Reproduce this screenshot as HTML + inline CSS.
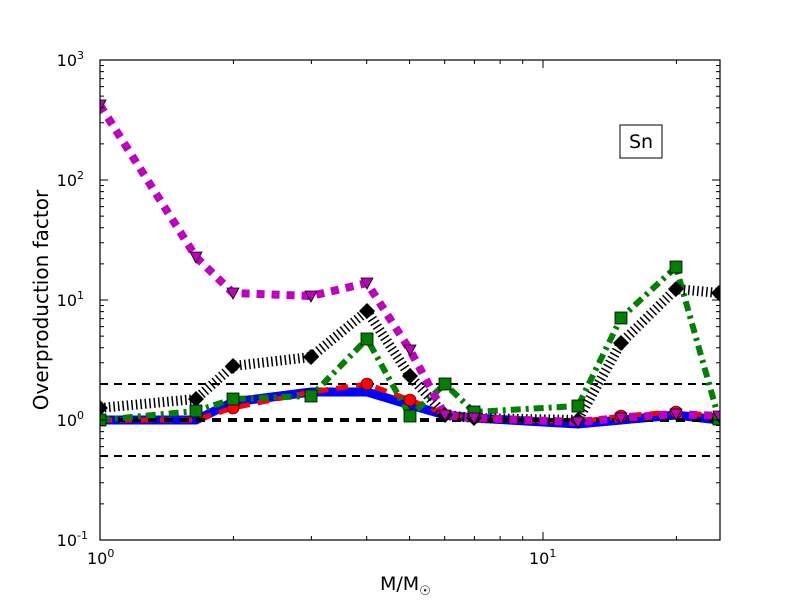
<!DOCTYPE html>
<html><head><meta charset="utf-8"><style>body{margin:0;background:#fff}svg{display:block}</style></head><body>
<svg width="800" height="600" xmlns="http://www.w3.org/2000/svg" font-family="DejaVu Sans, Liberation Sans, sans-serif">
<rect width="800" height="600" fill="#fff"/>
<defs><clipPath id="c"><rect x="100" y="60" width="620" height="480"/></clipPath></defs>
<g clip-path="url(#c)">
<line x1="100" y1="384" x2="720" y2="384" stroke="#000" stroke-width="2" stroke-dasharray="8,6"/>
<line x1="100" y1="456" x2="720" y2="456" stroke="#000" stroke-width="2" stroke-dasharray="8,6"/>
<polyline fill="none" stroke="#0000ff" stroke-width="9" points="100,420 196,420 233,402 311,392 367,392 410,405 445,415 474,418 578,424 621,420 676,415 719,420"/>
<polyline fill="none" stroke="#ff0000" stroke-width="5" stroke-dasharray="12,8" points="100,420 196,420 233,408 311,392 367,384 410,400 445,414 474,418 578,422 621,416 676,412 719,416"/>
<line x1="100" y1="420" x2="720" y2="420" stroke="#000" stroke-width="4" stroke-dasharray="9,7"/>
<polyline fill="none" stroke="#007f00" stroke-width="6" stroke-dasharray="10,5,3,5" points="100,420 196,411 233,399 311,396 367,339 410,416 445,384 474,412 578,406 621,318 676,267 719,419"/>
<polyline fill="none" stroke="#000" stroke-width="10" stroke-dasharray="1.5,3" points="100,408 196,399 233,366 311,357 367,311 410,376 445,415 474,418 578,420 621,343 676,289 719,293"/>
<polyline fill="none" stroke="#bf00bf" stroke-width="8" stroke-dasharray="8,7" points="100,105 196,257 233,293 311,296 367,283 410,350 445,415 474,418 578,422 621,418 676,414 719,416"/>
<g fill="#ff0000" stroke="#000" stroke-width="0.6">
<circle cx="233" cy="408" r="6"/><circle cx="367" cy="384" r="6"/><circle cx="410" cy="400" r="6"/><circle cx="621" cy="416" r="6"/><circle cx="676" cy="412" r="6"/></g>
<g fill="#000"><path d="M100,400l8,8-8,8-8-8z M196,391l8,8-8,8-8-8z M233,358l8,8-8,8-8-8z M311,349l8,8-8,8-8-8z M367,303l8,8-8,8-8-8z M410,368l8,8-8,8-8-8z M445,407l8,8-8,8-8-8z M474,410l8,8-8,8-8-8z M578,412l8,8-8,8-8-8z M621,335l8,8-8,8-8-8z M676,281l8,8-8,8-8-8z M719,285l8,8-8,8-8-8z"/></g>
<g fill="#007f00" stroke="#000" stroke-width="0.8">
<rect x="94" y="414" width="12" height="12"/><rect x="190" y="405" width="12" height="12"/><rect x="227" y="393" width="12" height="12"/><rect x="305" y="390" width="12" height="12"/><rect x="361" y="333" width="12" height="12"/><rect x="404" y="410" width="12" height="12"/><rect x="439" y="378" width="12" height="12"/><rect x="468" y="406" width="12" height="12"/><rect x="572" y="400" width="12" height="12"/><rect x="615" y="312" width="12" height="12"/><rect x="670" y="261" width="12" height="12"/><rect x="713" y="413" width="12" height="12"/></g>
<g fill="#bf00bf" stroke="#000" stroke-width="0.8">
<path d="M94,100h12l-6,11z M190,252h12l-6,11z M227,288h12l-6,11z M305,291h12l-6,11z M361,278h12l-6,11z M404,345h12l-6,11z M439,410h12l-6,11z M468,413h12l-6,11z M572,417h12l-6,11z M615,413h12l-6,11z M670,409h12l-6,11z M713,411h12l-6,11z"/></g>
</g>
<rect x="100" y="60" width="620" height="480" fill="none" stroke="#000" stroke-width="1.2"/>
<g stroke="#000" stroke-width="1">
<path d="M100,420h8M100,300h8M100,180h8M712,420h8M712,300h8M712,180h8M543,540v-8M543,60v8"/>
<path d="M100,503.9h4M100,482.7h4M100,467.8h4M100,456.1h4M100,446.6h4M100,438.6h4M100,431.6h4M100,425.5h4M100,383.9h4M100,362.7h4M100,347.8h4M100,336.1h4M100,326.6h4M100,318.6h4M100,311.6h4M100,305.5h4M100,263.9h4M100,242.7h4M100,227.8h4M100,216.1h4M100,206.6h4M100,198.6h4M100,191.6h4M100,185.5h4M100,143.9h4M100,122.7h4M100,107.8h4M100,96.1h4M100,86.6h4M100,78.6h4M100,71.6h4M100,65.5h4"/>
<path d="M720,503.9h-4M720,482.7h-4M720,467.8h-4M720,456.1h-4M720,446.6h-4M720,438.6h-4M720,431.6h-4M720,425.5h-4M720,383.9h-4M720,362.7h-4M720,347.8h-4M720,336.1h-4M720,326.6h-4M720,318.6h-4M720,311.6h-4M720,305.5h-4M720,263.9h-4M720,242.7h-4M720,227.8h-4M720,216.1h-4M720,206.6h-4M720,198.6h-4M720,191.6h-4M720,185.5h-4M720,143.9h-4M720,122.7h-4M720,107.8h-4M720,96.1h-4M720,86.6h-4M720,78.6h-4M720,71.6h-4M720,65.5h-4"/>
<path d="M233.4,540v-4M311.4,540v-4M366.7,540v-4M409.6,540v-4M444.7,540v-4M474.4,540v-4M500.1,540v-4M522.7,540v-4M676.4,540v-4M233.4,60v4M311.4,60v4M366.7,60v4M409.6,60v4M444.7,60v4M474.4,60v4M500.1,60v4M522.7,60v4M676.4,60v4"/>
</g>
<g font-size="16" fill="#000" text-anchor="end">
<text x="84" y="66">10<tspan font-size="11" dy="-7">3</tspan></text>
<text x="84" y="186">10<tspan font-size="11" dy="-7">2</tspan></text>
<text x="84" y="306">10<tspan font-size="11" dy="-7">1</tspan></text>
<text x="84" y="426">10<tspan font-size="11" dy="-7">0</tspan></text>
<text x="88" y="546">10<tspan font-size="11" dy="-7">-1</tspan></text>
</g>
<g font-size="16" fill="#000">
<text x="87" y="564">10<tspan font-size="11" dy="-7">0</tspan></text>
<text x="529" y="564">10<tspan font-size="11" dy="-7">1</tspan></text>
<text x="380" y="590" font-size="19">M/M<tspan font-size="13" dy="5">☉</tspan></text>
</g>
<text transform="translate(48,300) rotate(-90)" text-anchor="middle" font-size="20" fill="#000">Overproduction factor</text>
<rect x="620" y="125" width="42" height="33" fill="#fff" stroke="#000" stroke-width="1"/>
<text x="641" y="148" text-anchor="middle" font-size="19" fill="#000">Sn</text>
</svg>
</body></html>
